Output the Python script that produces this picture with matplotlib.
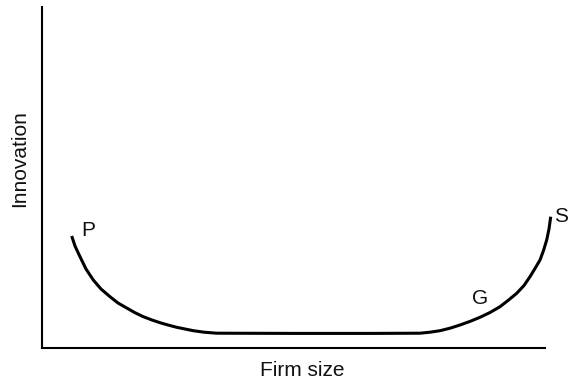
import matplotlib
matplotlib.use("Agg")
import matplotlib.pyplot as plt

# Curve (x: firm size, y: innovation; arbitrary units)
firm_size = [29.7, 33, 38, 44, 51.3, 59, 68, 76, 84.7, 93, 101.3, 110, 118, 126, 134.7, 143, 151.3, 162, 174.7,
             250, 330, 378, 388, 398, 408, 418, 428, 438, 448, 458, 466, 474.7, 482, 488, 493, 498, 501.5, 504.7, 507, 508.7]
innovation = [112, 102, 91.3, 79, 68, 59, 51.3, 45, 40, 35.3, 31.3, 28, 25.3, 23, 20.7, 19, 17.3, 15.8, 14.8,
              14.6, 14.6, 14.8, 15.8, 17.3, 19.8, 23, 26.6, 30.7, 35.5, 41.3, 47.5, 54.7, 62.5, 71.3, 79.5, 88, 97.5, 108, 119, 131.3]

point_labels = ["P", "G", "S"]
point_x = [46, 438, 519]
point_y = [118, 50, 131]

fig = plt.figure(figsize=(5.7, 3.8), dpi=100)
W, H = 570, 380
ax = fig.add_axes([42 / W, 32 / H, (545 - 42) / W, (348 - 7) / H])
ax.set_xlim(0, 503)
ax.set_ylim(0, 341)

ax.plot(firm_size, innovation, color="black", lw=2.2, solid_capstyle="butt",
        solid_joinstyle="round", clip_on=False)

for s in ["top", "right"]:
    ax.spines[s].set_visible(False)
for s in ["left", "bottom"]:
    ax.spines[s].set_linewidth(1.5)
ax.set_xticks([])
ax.set_yticks([])

font = dict(family=["Liberation Sans", "DejaVu Sans"], fontsize=15, color="#111111")
for lab, x, y in zip(point_labels, point_x, point_y):
    ax.text(x, y, lab, ha="center", va="center", clip_on=False, **font)

fig.text(302 / W, 1 - 370 / H, "Firm size", ha="center", va="center", **font)
fig.text(20 / W, 1 - 159 / H, "Innovation", ha="center", va="center", rotation=90, **font)

fig.savefig("out.png", dpi=100)
